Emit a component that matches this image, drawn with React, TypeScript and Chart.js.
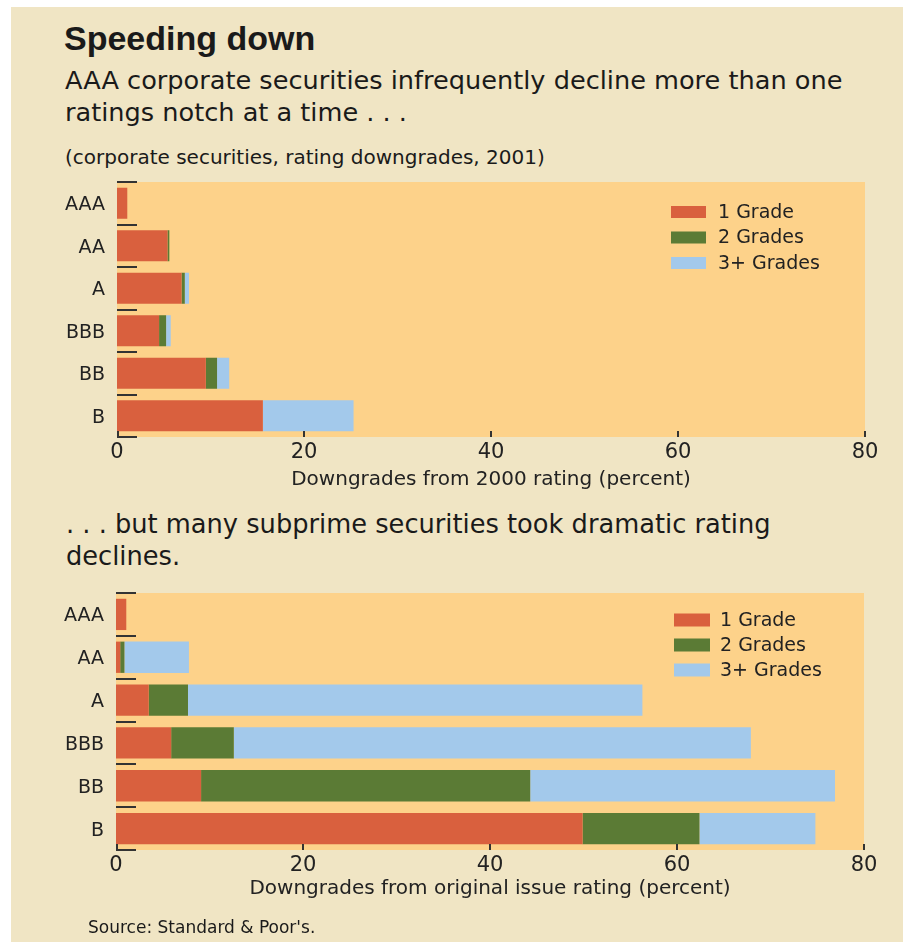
import React, { useEffect, useRef } from "react";
import { Chart, registerables } from "chart.js";

Chart.register(...registerables);

// ---------- data ----------
const ratings = ["AAA", "AA", "A", "BBB", "BB", "B"];
const seriesLabels = ["1 Grade", "2 Grades", "3+ Grades"];
const xMin = 0;
const xMax = 80;
const xStep = 20;

// 2001 corporate downgrades (percent)
const corp1Grade = [1.1, 5.4, 6.9, 4.5, 9.5, 15.6];
const corp2Grades = [0, 0.2, 0.35, 0.75, 1.2, 0];
const corp3Grades = [0, 0, 0.45, 0.5, 1.3, 9.7];

// subprime downgrades from original issue rating (percent)
const sub1Grade = [1.1, 0.45, 3.5, 5.9, 9.1, 49.9];
const sub2Grades = [0, 0.45, 4.2, 6.7, 35.2, 12.5];
const sub3Grades = [0, 6.9, 48.6, 55.3, 32.6, 12.4];

const titleText = "Speeding down";
const sub1Line1 = "AAA corporate securities infrequently decline more than one";
const sub1Line2 = "ratings notch at a time . . .";
const noteText = "(corporate securities, rating downgrades, 2001)";
const axisTitle1 = "Downgrades from 2000 rating (percent)";
const sub2Line1 = ". . . but many subprime securities took dramatic rating";
const sub2Line2 = "declines.";
const axisTitle2 = "Downgrades from original issue rating (percent)";
const sourceText = "Source: Standard & Poor's.";

// ---------- styles ----------
const COLORS = ["#D9603E", "#5B7B35", "#A3C9EB"];
const PLOT_BG = "#FDD28A";
const PAGE_BG = "#F0E5C4";
const INK = "#222222";
const FONT = "'DejaVu Sans', 'Open Sans', sans-serif";

type PanelProps = {
  top: number;
  height: number;
  areaLeft: number;
  areaRight: number;
  areaTop: number;
  areaBottom: number;
  titlePad: number;
  xTitle: string;
  s1: number[];
  s2: number[];
  s3: number[];
  legendDX: number;
  legendDY: number;
  legendGap: number;
  boxW: number;
  boxH: number;
  textDX: number;
};

function BarPanel(p: PanelProps) {
  const ref = useRef<HTMLCanvasElement | null>(null);

  useEffect(() => {
    if (!ref.current) return;

    const decor = {
      id: "decor",
      beforeDatasetsDraw(chart: any) {
        const { ctx, chartArea: a } = chart;
        ctx.save();
        ctx.fillStyle = PLOT_BG;
        ctx.fillRect(a.left, a.top, a.right - a.left, a.bottom - a.top);
        ctx.restore();
      },
      afterDatasetsDraw(chart: any) {
        const { ctx, chartArea: a } = chart;
        const ys = chart.scales.y;
        const xs = chart.scales.x;
        ctx.save();
        ctx.strokeStyle = "#333333";
        ctx.lineWidth = 2;
        // short dashes at category boundaries
        for (let i = 0; i <= ratings.length; i++) {
          const y = Math.round(ys.getPixelForValue(i - 0.5));
          ctx.beginPath();
          ctx.moveTo(a.left, y);
          ctx.lineTo(a.left + 20, y);
          ctx.stroke();
        }
        // short inward x ticks
        for (let v = xMin; v <= xMax; v += xStep) {
          const x = Math.round(xs.getPixelForValue(v)) + (v === xMin ? 1 : 0);
          ctx.beginPath();
          ctx.moveTo(x, a.bottom);
          ctx.lineTo(x, a.bottom - 6);
          ctx.stroke();
        }
        ctx.restore();
      },
      afterDraw(chart: any) {
        const { ctx, chartArea: a } = chart;
        ctx.save();
        ctx.font = `19px ${FONT}`;
        ctx.textBaseline = "middle";
        ctx.textAlign = "left";
        chart.data.datasets.forEach((ds: any, i: number) => {
          const cy = a.top + p.legendDY + i * p.legendGap;
          const bx = a.left + p.legendDX;
          ctx.fillStyle = ds.backgroundColor;
          ctx.fillRect(bx, cy - p.boxH / 2, p.boxW, p.boxH);
          ctx.fillStyle = INK;
          ctx.fillText(ds.label, bx + p.textDX, cy + 1);
        });
        ctx.restore();
      },
    };

    const chart = new Chart(ref.current, {
      type: "bar",
      data: {
        labels: ratings,
        datasets: [p.s1, p.s2, p.s3].map((d, i) => ({
          label: seriesLabels[i],
          data: d,
          backgroundColor: COLORS[i],
          borderWidth: 0,
          barPercentage: 0.73,
          categoryPercentage: 1,
        })),
      },
      options: {
        indexAxis: "y",
        animation: false,
        responsive: false,
        maintainAspectRatio: false,
        layout: {
          padding: { left: 0, top: p.areaTop, right: 903 - p.areaRight, bottom: 0 },
        },
        plugins: { legend: { display: false }, tooltip: { enabled: false } },
        scales: {
          x: {
            stacked: true,
            min: xMin,
            max: xMax,
            ticks: { stepSize: xStep, color: INK, font: { family: FONT, size: 21 }, padding: 3 },
            grid: { display: false, drawTicks: false },
            border: { display: false },
            title: {
              display: true,
              text: p.xTitle,
              color: INK,
              font: { family: FONT, size: 20 },
              padding: { top: 0, bottom: p.titlePad },
            },
            afterFit: (s: any) => {
              s.height = p.height - p.areaBottom;
              s.paddingLeft = 0;
              s.paddingRight = 0;
              s.paddingTop = 0;
              s.paddingBottom = 0;
            },
          },
          y: {
            stacked: true,
            ticks: { color: INK, font: { family: FONT, size: 19 }, padding: 12, labelOffset: 2 },
            grid: { display: false, drawTicks: false },
            border: { display: false },
            afterFit: (s: any) => {
              s.width = p.areaLeft;
              s.paddingTop = 0;
              s.paddingBottom = 0;
              s.paddingLeft = 0;
              s.paddingRight = 0;
            },
          },
        },
      },
      plugins: [decor],
    } as any);

    return () => chart.destroy();
  }, []);

  return (
    <canvas
      ref={ref}
      width={903}
      height={p.height}
      style={{ position: "absolute", left: 0, top: p.top, width: 903, height: p.height }}
    />
  );
}

function Txt(props: { x: number; y: number; size: number; bold?: boolean; family?: string; children: string }) {
  return (
    <div
      style={{
        position: "absolute",
        left: props.x,
        top: props.y,
        fontSize: props.size,
        lineHeight: 1,
        fontWeight: props.bold ? 700 : 400,
        fontFamily: props.family || FONT,
        color: "#1a1a1a",
        whiteSpace: "nowrap",
      }}
    >
      {props.children}
    </div>
  );
}

export default function App() {
  return (
    <div style={{ position: "absolute", left: 0, top: 0, width: 903, height: 942, background: "#ffffff", overflow: "hidden" }}>
      <div style={{ position: "absolute", left: 11, top: 7, right: 0, bottom: 0, background: PAGE_BG }} />
      <Txt x={64} y={21} size={34} bold family="'Liberation Sans', Arial, sans-serif">{titleText}</Txt>
      <Txt x={65} y={68} size={25.6}>{sub1Line1}</Txt>
      <Txt x={65} y={100} size={25.6}>{sub1Line2}</Txt>
      <Txt x={65} y={147} size={20}>{noteText}</Txt>
      <BarPanel
        top={170}
        height={330}
        areaLeft={117}
        areaRight={865}
        areaTop={12}
        areaBottom={267}
        titlePad={8}
        xTitle={axisTitle1}
        s1={corp1Grade}
        s2={corp2Grades}
        s3={corp3Grades}
        legendDX={554}
        legendDY={30}
        legendGap={25.5}
        boxW={35}
        boxH={12}
        textDX={47}
      />
      <Txt x={66} y={512} size={25.7}>{sub2Line1}</Txt>
      <Txt x={66} y={544} size={25.7}>{sub2Line2}</Txt>
      <BarPanel
        top={580}
        height={340}
        areaLeft={116}
        areaRight={864}
        areaTop={13}
        areaBottom={270}
        titlePad={19}
        xTitle={axisTitle2}
        s1={sub1Grade}
        s2={sub2Grades}
        s3={sub3Grades}
        legendDX={558}
        legendDY={27}
        legendGap={25}
        boxW={36}
        boxH={13}
        textDX={46}
      />
      <Txt x={88} y={919} size={17}>{sourceText}</Txt>
    </div>
  );
}
